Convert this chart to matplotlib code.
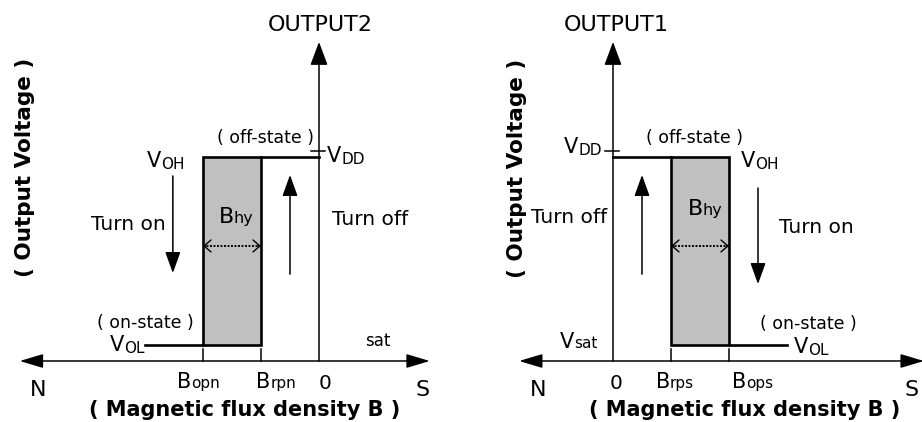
import matplotlib
matplotlib.use("Agg")
import matplotlib.pyplot as plt
from matplotlib.patches import Rectangle
from matplotlib.transforms import offset_copy

# ---- switching thresholds (B units) and output levels (V units) ------------
B_OP = 2.0          # operate point magnitude
B_RP = 1.0          # release point magnitude
V_OH = 1.00
V_OL = 0.08
V_DD = 1.03
# OUTPUT2 responds to the north pole (negative B), OUTPUT1 to the south pole
THRESH_N = [-B_OP, -B_RP]      # B_opn, B_rpn
THRESH_S = [B_RP, B_OP]        # B_rps, B_ops
TICK_N = ["opn", "rpn"]
TICK_S = ["rps", "ops"]

# ---- layout -----------------------------------------------------------------
SX, SY = 58.0, 204.0           # px per B unit / per V unit
PANEL_W, H = 461, 422
AX_Y0 = 61                      # px of the B axis above the bottom edge
LW_AX, LW_H = 1.1, 1.9
FILL = "#c0c0c0"

fig = plt.figure(figsize=(9.22, 4.22), dpi=100)
R = fig.canvas.get_renderer()


def panel(left, origin_px):
    ax = fig.add_axes([left, 0, 0.5, 1])
    ax.set_xlim(-origin_px / SX, (PANEL_W - origin_px) / SX)
    ax.set_ylim(-AX_Y0 / SY, (H - AX_Y0) / SY)
    ax.axis("off")
    return ax


def arrow(ax, tail, tip, hl=13, hw=4.7, lw=LW_AX, style="-|>"):
    ax.annotate("", xy=tip, xytext=tail, annotation_clip=False,
                arrowprops=dict(arrowstyle=f"{style},head_length={hl},head_width={hw}",
                                mutation_scale=1, lw=lw, color="k",
                                shrinkA=0, shrinkB=0))


def mixed(ax, x, y, big, small, fb=15, fs=11, ha="center", drop=0.0, **kw):
    w = []
    for s, f in ((big, fb), (small, fs)):
        t = ax.text(0, 0, s, fontsize=f, **kw)
        w.append(t.get_window_extent(R).width)
        t.remove()
    x0 = {"left": 0, "center": -sum(w) / 2, "right": -sum(w)}[ha]
    ax.text(x, y, big, fontsize=fb, ha="left", va="baseline", clip_on=False,
            transform=offset_copy(ax.transData, fig=fig, x=x0, y=0, units="dots"), **kw)
    ax.text(x, y, small, fontsize=fs, ha="left", va="baseline", clip_on=False,
            transform=offset_copy(ax.transData, fig=fig, x=x0 + w[0], y=-drop,
                                  units="dots"), **kw)


def skeleton(ax, thr, x_range, out_side):
    b_near = min(thr, key=abs)
    b_far = max(thr, key=abs)
    # axes
    arrow(ax, (x_range[0], 0), (x_range[1], 0), hl=14.4, hw=4.3, style="<|-|>")
    arrow(ax, (0, 0), (0, 1.564), hl=14.4, hw=5.4)
    ax.plot([-0.14, 0.1], [V_DD, V_DD], color="k", lw=LW_AX)
    # hysteresis loop
    ax.add_patch(Rectangle((min(thr), V_OL), abs(thr[1] - thr[0]), V_OH - V_OL,
                           facecolor=FILL, edgecolor="k", lw=LW_H))
    ax.plot([0, b_near], [V_OH, V_OH], color="k", lw=LW_H)
    ax.plot([b_far, b_far + out_side], [V_OL, V_OL], color="k", lw=LW_H)
    for b in thr:
        ax.plot([b, b], [0, 0.059], color="k", lw=LW_AX)
    # B_hy dotted double arrow
    yd = 0.564
    ax.plot(thr, [yd, yd], color="k", lw=1.4, ls=(0, (1, 0.8)))
    arrow(ax, (thr[0] + 0.05, yd), (thr[0], yd), hl=5, hw=4.3, lw=1.0, style="->")
    arrow(ax, (thr[1] - 0.05, yd), (thr[1], yd), hl=5, hw=4.3, lw=1.0, style="->")


# =============================================================================
# left panel: OUTPUT2 (north pole)
# =============================================================================
axL = panel(0.0, 319)
skeleton(axL, THRESH_N, (-5.16, 1.91), -1.0)
arrow(axL, (-2.52, 0.907), (-2.52, 0.431))
arrow(axL, (-0.5, 0.426), (-0.5, 0.912))

axL.text(0.02, 1.647, "OUTPUT2", fontsize=16, ha="center", va="center")
mixed(axL, 0.14, 0.975, "V", "DD", ha="left", drop=2)
mixed(axL, -2.31, 0.951, "V", "OH", ha="right", drop=2)
axL.text(-0.93, 1.069, "( off-state )", fontsize=12.5, ha="center", va="baseline")
mixed(axL, -1.43, 0.676, "B", "hy", fb=16, fs=11.5)
axL.text(-3.28, 0.642, "Turn on", fontsize=14.5, ha="center", va="baseline")
axL.text(0.88, 0.667, "Turn off", fontsize=14.5, ha="center", va="baseline")
axL.text(-3.0, 0.162, "( on-state )", fontsize=12.5, ha="center", va="baseline")
mixed(axL, -3.0, 0.049, "V", "OL", ha="right", drop=2)
axL.text(1.02, 0.074, "sat", fontsize=12, ha="center", va="baseline")
for b, s, dx in zip(THRESH_N, TICK_N, (-0.08, 0.26)):
    mixed(axL, b + dx, -0.132, "B", s)
axL.text(0.11, -0.137, "0", fontsize=14.5, ha="center", va="baseline")
axL.text(-4.84, -0.172, "N", fontsize=16, ha="center", va="baseline")
axL.text(1.78, -0.172, "S", fontsize=16, ha="center", va="baseline")
axL.text(-1.28, -0.27, "( Magnetic flux density B )", fontsize=15,
         fontweight="bold", ha="center", va="baseline")
axL.text(-5.07, 0.951, "( Output Voltage )", fontsize=15.5, fontweight="bold",
         rotation=90, ha="center", va="center")

# =============================================================================
# right panel: OUTPUT1 (south pole)
# =============================================================================
axR = panel(0.5, 152)
skeleton(axR, THRESH_S, (-1.62, 5.36), 1.0)
arrow(axR, (2.5, 0.848), (2.5, 0.377))
arrow(axR, (0.5, 0.426), (0.5, 0.912))

axR.text(0.05, 1.647, "OUTPUT1", fontsize=16, ha="center", va="center")
mixed(axR, -0.19, 1.02, "V", "DD", ha="right", drop=2)
axR.text(1.40, 1.069, "( off-state )", fontsize=12.5, ha="center", va="baseline")
mixed(axR, 2.21, 0.951, "V", "OH", ha="left", drop=2)
mixed(axR, 1.59, 0.716, "B", "hy", fb=16, fs=11.5)
axR.text(-0.10, 0.676, "Turn off", fontsize=14.5, ha="right", va="baseline")
axR.text(3.5, 0.627, "Turn on", fontsize=14.5, ha="center", va="baseline")
axR.text(3.36, 0.157, "( on-state )", fontsize=12.5, ha="center", va="baseline")
mixed(axR, 3.12, 0.039, "V", "OL", ha="left", drop=2)
mixed(axR, -0.26, 0.064, "V", "sat", ha="right")
for b, s, dx in zip(THRESH_S, TICK_S, (0.07, 0.40)):
    mixed(axR, b + dx, -0.132, "B", s)
axR.text(0.06, -0.137, "0", fontsize=14.5, ha="center", va="baseline")
axR.text(-1.29, -0.172, "N", fontsize=16, ha="center", va="baseline")
axR.text(5.15, -0.172, "S", fontsize=16, ha="center", va="baseline")
axR.text(2.27, -0.27, "( Magnetic flux density B )", fontsize=15,
         fontweight="bold", ha="center", va="baseline")
axR.text(-1.66, 0.946, "( Output Voltage )", fontsize=15.5, fontweight="bold",
         rotation=90, ha="center", va="center")

fig.savefig("out.png", dpi=100)
